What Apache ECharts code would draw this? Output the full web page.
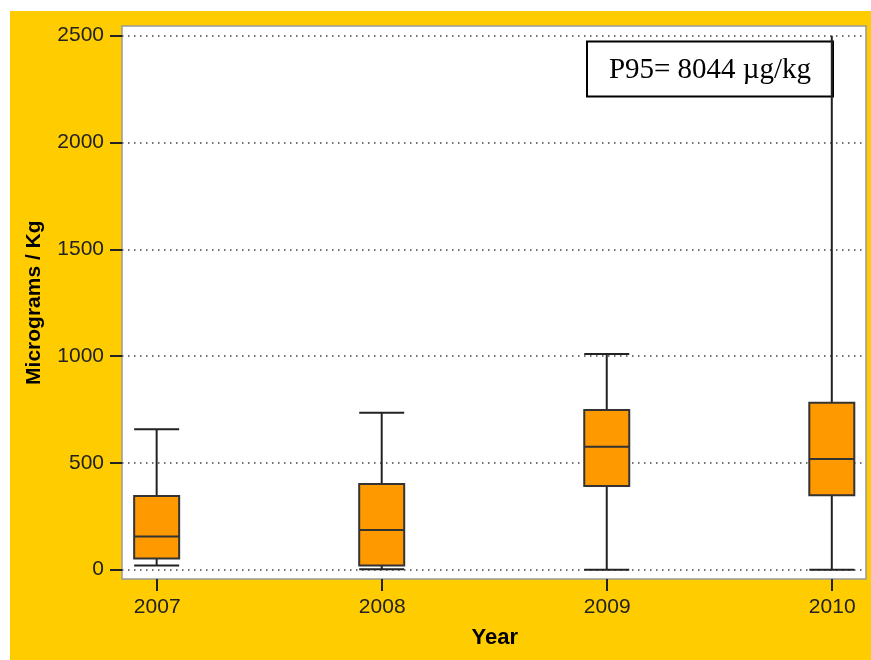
<!DOCTYPE html>
<html>
<head>
<meta charset="utf-8">
<script src="https://cdn.jsdelivr.net/npm/echarts@6/dist/echarts.min.js"></script>
<style>
  html, body { margin: 0; padding: 0; background: #ffffff; }
  #chart { width: 871px; height: 660px; }
</style>
</head>
<body>
<div id="chart"></div>
<script>
// Yearly distribution of concentrations (µg/kg), one box per year
const years = [2007, 2008, 2009, 2010];
const yearLabels = ['2007', '2008', '2009', '2010'];
const lowWhisker = [20, 2, 0, 0];
const quartile1 = [52, 20, 392, 348];
const medians = [155, 186, 576, 518];
const quartile3 = [345, 401, 748, 781];
const highWhisker = [657, 735, 1010, 8044];
const yTicks = [0, 500, 1000, 1500, 2000, 2500];
const p95Note = 'P95= 8044 µg/kg';

const BOX_WIDTH = 45;
const INK = '#222222';

const boxData = years.map((y, i) => [y, lowWhisker[i], quartile1[i], medians[i], quartile3[i], highWhisker[i]]);

function renderBox(params, api) {
  const x = api.value(0);
  const lo = api.coord([x, api.value(1)]);
  const q1 = api.coord([x, api.value(2)]);
  const md = api.coord([x, api.value(3)]);
  const q3 = api.coord([x, api.value(4)]);
  const hi = api.coord([x, api.value(5)]);
  const area = params.coordSys;
  // whiskers running past the top of the value axis stop at the plot edge
  const top = area.y;
  const hiY = Math.max(hi[1], top);
  const cx = lo[0];
  const h = BOX_WIDTH / 2;
  const ln = { stroke: INK, lineWidth: 2 };
  const parts = [
    { type: 'line', shape: { x1: cx, y1: lo[1], x2: cx, y2: q1[1] }, style: ln },
    { type: 'line', shape: { x1: cx, y1: q3[1], x2: cx, y2: hiY }, style: ln },
    { type: 'line', shape: { x1: cx - h, y1: lo[1], x2: cx + h, y2: lo[1] }, style: ln }
  ];
  if (hi[1] >= top) {
    parts.push({ type: 'line', shape: { x1: cx - h, y1: hi[1], x2: cx + h, y2: hi[1] }, style: ln });
  }
  parts.push(
    { type: 'rect', shape: { x: cx - h, y: q3[1], width: BOX_WIDTH, height: q1[1] - q3[1] },
      style: { fill: '#FF9900', stroke: '#333333', lineWidth: 2 } },
    { type: 'line', shape: { x1: cx - h, y1: md[1], x2: cx + h, y2: md[1] }, style: { stroke: '#333333', lineWidth: 2 } }
  );
  return { type: 'group', children: parts };
}

const chart = echarts.init(document.getElementById('chart'), null, { renderer: 'canvas' });

const PLOT = { left: 122, top: 26, right: 866, bottom: 579 };

chart.setOption({
  backgroundColor: '#ffffff',
  animation: false,
  textStyle: { fontFamily: 'Liberation Sans, Arial, sans-serif' },
  graphic: [
    { type: 'rect', z: -20, silent: true, shape: { x: 10, y: 11, width: 861, height: 649 }, style: { fill: '#FFCC00' } },
    { type: 'rect', z: -10, silent: true,
      shape: { x: PLOT.left, y: PLOT.top, width: PLOT.right - PLOT.left, height: PLOT.bottom - PLOT.top },
      style: { fill: '#ffffff', stroke: '#999999', lineWidth: 1.5 } },
    { type: 'group', z: 20, left: 586, top: 40.5, children: [
      { type: 'rect', shape: { x: 0, y: 0, width: 246, height: 55 }, style: { fill: '#ffffff', stroke: '#000000', lineWidth: 2 } },
      { type: 'text', x: 123, y: 29, style: { text: p95Note, fill: '#000000', font: '29px "Liberation Serif", "Times New Roman", serif', align: 'center', verticalAlign: 'middle' } }
    ] }
  ],
  grid: [
    // value area for the boxes and the horizontal grid lines
    { left: 122, right: 5, top: 35.67, bottom: 90.33 },
    // category band for the year ticks and labels, along the lower plot edge
    { left: 157.2, right: 871 - 832.2, top: 26, bottom: 81 }
  ],
  xAxis: [
    { gridIndex: 0, type: 'value', min: 2006.846, max: 2010.152, show: false },
    { gridIndex: 1, type: 'category', data: yearLabels, boundaryGap: false,
      axisLine: { show: false },
      axisTick: { show: true, inside: false, length: 12, lineStyle: { color: INK, width: 2 } },
      axisLabel: { margin: 18, fontSize: 21, color: INK, fontFamily: 'Liberation Sans' },
      splitLine: { show: false },
      name: 'Year', nameLocation: 'middle', nameGap: 48,
      nameTextStyle: { fontSize: 22, fontWeight: 'bold', color: '#000000', fontFamily: 'Liberation Sans' } }
  ],
  yAxis: [
    { gridIndex: 0, type: 'value', min: yTicks[0], max: yTicks[yTicks.length - 1], interval: 500,
      axisLine: { show: false },
      axisTick: { show: true, length: 12, lineStyle: { color: INK, width: 2 } },
      axisLabel: { margin: 18, fontSize: 21, color: INK, fontFamily: 'Liberation Sans',
        formatter: (v) => String(v) },
      splitLine: { show: true, lineStyle: { color: '#444444', width: 1.5, type: [1.5, 4.5] } },
      name: 'Micrograms / Kg', nameLocation: 'middle', nameRotate: 90, nameGap: 77,
      nameTextStyle: { fontSize: 21, fontWeight: 'bold', color: '#000000', fontFamily: 'Liberation Sans' } },
    { gridIndex: 1, type: 'value', min: 0, max: 2500, show: false }
  ],
  series: [
    { type: 'custom', xAxisIndex: 0, yAxisIndex: 0, z: 5,
      renderItem: renderBox, data: boxData }
  ]
});
</script>
</body>
</html>
